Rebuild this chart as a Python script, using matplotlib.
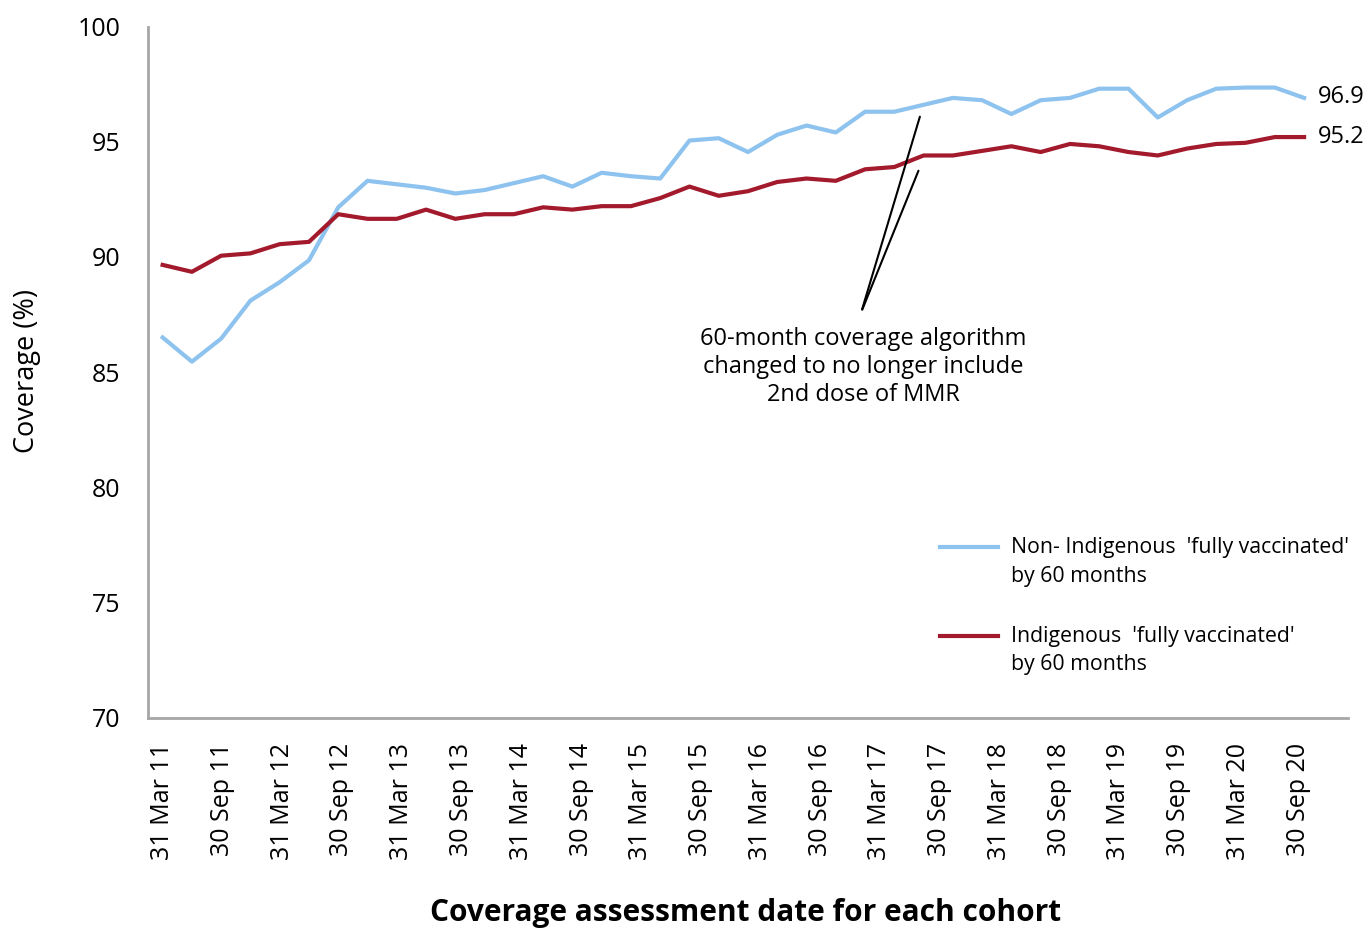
import numpy as np
import matplotlib
matplotlib.use("Agg")
import matplotlib.pyplot as plt

plt.rcParams['font.family'] = ['Open Sans', 'DejaVu Sans']

# quarterly coverage, 31 Mar 11 .. 31 Dec 20
non_indigenous = [86.5, 85.45, 86.45, 88.1, 88.9, 89.85, 92.15, 93.3, 93.15, 93.0,
                  92.75, 92.9, 93.2, 93.5, 93.05, 93.65, 93.5, 93.4, 95.05, 95.15,
                  94.55, 95.3, 95.7, 95.4, 96.3, 96.3, 96.6, 96.9, 96.8, 96.2,
                  96.8, 96.9, 97.3, 97.3, 96.05, 96.8, 97.3, 97.35, 97.35, 96.9]
indigenous = [89.65, 89.35, 90.05, 90.15, 90.55, 90.65, 91.85, 91.65, 91.65, 92.05,
              91.65, 91.85, 91.85, 92.15, 92.05, 92.2, 92.2, 92.55, 93.05, 92.65,
              92.85, 93.25, 93.4, 93.3, 93.8, 93.9, 94.4, 94.4, 94.6, 94.8,
              94.55, 94.9, 94.8, 94.55, 94.4, 94.7, 94.9, 94.95, 95.2, 95.2]

tick_labels = []
for yr in range(11, 21):
    tick_labels.append(f"31 Mar {yr}")
    tick_labels.append(f"30 Sep {yr}")

series_names = ["Non- Indigenous  'fully vaccinated'\nby 60 months",
                "Indigenous  'fully vaccinated'\nby 60 months"]

blue = "#8DC3EE"
red = "#A31A2D"
grey = "#A6A6A6"

fig = plt.figure(figsize=(13.68, 9.31), dpi=100)
ax = fig.add_axes([148 / 1368, 1 - 717.5 / 931, 1200 / 1368, 691 / 931])

x = np.arange(len(non_indigenous))
ax.plot(x, non_indigenous, color=blue, lw=3)
ax.plot(x, indigenous, color=red, lw=3)

ax.set_xlim(-0.5, 40.5)
ax.set_ylim(70, 100)
ax.set_yticks(np.arange(70, 101, 5))
ax.set_xticks(np.linspace(0, 38.8, len(tick_labels)))
ax.set_xticklabels(tick_labels, rotation=90)
ax.tick_params(axis="both", length=0, labelsize=18)
ax.tick_params(axis="y", pad=20)
ax.tick_params(axis="x", pad=18)

for side in ["top", "right"]:
    ax.spines[side].set_visible(False)
for side in ["left", "bottom"]:
    ax.spines[side].set_color(grey)
    ax.spines[side].set_linewidth(2)

# end of series values
ax.annotate(f"{non_indigenous[-1]:.1f}", (x[-1], non_indigenous[-1]), xytext=(10, 1),
            textcoords="offset points", va="center", fontsize=17)
ax.annotate(f"{indigenous[-1]:.1f}", (x[-1], indigenous[-1]), xytext=(10, 0),
            textcoords="offset points", va="center", fontsize=17)

# algorithm change note
apex = (23.87, 87.6)
ax.annotate("", xy=(25.9, 96.2), xytext=apex, arrowprops=dict(arrowstyle="-", lw=1.5, color="black"))
ax.annotate("", xy=(25.86, 93.85), xytext=apex, arrowprops=dict(arrowstyle="-", lw=1.5, color="black"))
ax.text(23.94, 86.95, "60-month coverage algorithm\nchanged to no longer include\n2nd dose of MMR",
        ha="center", va="top", fontsize=17, multialignment="center", linespacing=1.22)

# legend, handle level with the first line of each label
for name, col, ly in zip(series_names, [blue, red], [0.2467, 0.118]):
    ax.plot([0.66, 0.7083], [ly, ly], color=col, lw=3, transform=ax.transAxes, clip_on=False)
    ax.annotate(name, (0.719, ly), xycoords="axes fraction", xytext=(0, 7), textcoords="offset points",
                va="top", ha="left", fontsize=15.3, linespacing=1.45)

fig.text(27 / 1368, 1 - 371 / 931, "Coverage (%)", rotation=90, ha="center", va="center", fontsize=19.5)
fig.text(746 / 1368, 1 - 913 / 931, "Coverage assessment date for each cohort", ha="center", va="center",
         fontsize=21.5, fontweight="bold")

fig.savefig("out.png", dpi=100)
